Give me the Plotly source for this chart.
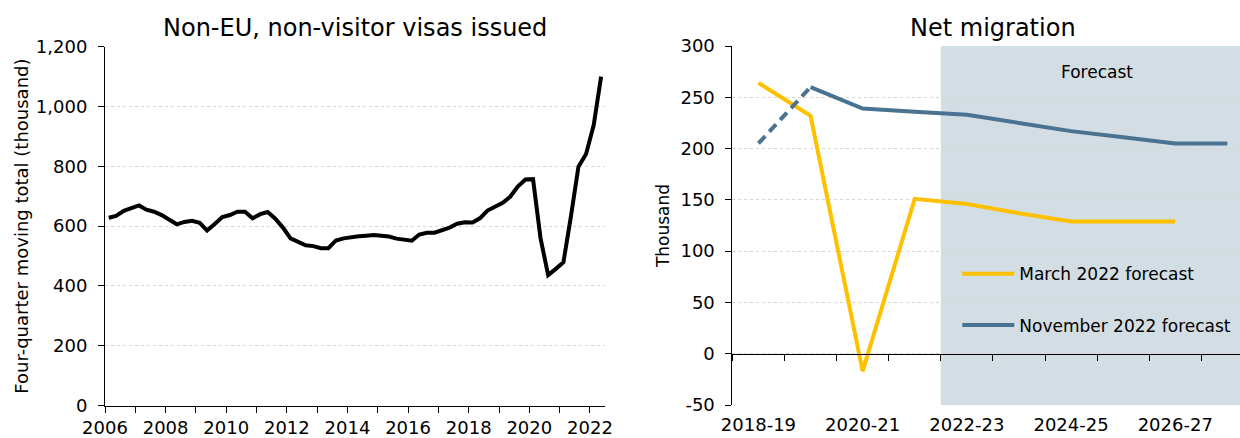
import plotly.graph_objects as go

# Left panel: non-EU, non-visitor visas issued, four-quarter moving total (thousand)
# quarterly, 2006 Q1 to 2022 Q2
visa_first_year = 2006
visas = [628, 634, 651, 661, 669, 655, 648, 637, 621, 606, 614, 618, 611, 585, 607, 630,
         637, 648, 648, 626, 640, 647, 625, 595, 559, 548, 536, 533, 526, 526, 552, 559,
         564, 566, 568, 570, 568, 565, 558, 556, 551, 572, 578, 578, 585, 595, 608, 613,
         612, 626, 652, 665, 678, 698, 732, 756, 757, 560, 436, 457, 479, 630, 799, 841,
         938, 1100]
mid_quarter = ["02-15", "05-15", "08-15", "11-15"]
quarters = [f"{visa_first_year + i // 4}-{mid_quarter[i % 4]}" for i in range(len(visas))]

# Right panel: net migration (thousand)
fiscal_years = ["2018-19", "2019-20", "2020-21", "2021-22", "2022-23",
                "2023-24", "2024-25", "2025-26", "2026-27", "2027-28"]
march_2022 = [264, 232, -17, 151, 146, 137, 129, 129, 129, None]
november_2022 = [205, 260, 239, 236, 233, 225, 217, 211, 205, 205]
forecast_start = "2022-23"
net_ticks = [-50, 0, 50, 100, 150, 200, 250, 300]

FONT = "DejaVu Sans"
YELLOW = "#FFC000"
BLUE = "#4A7291"
SHADE = "#D3DDE4"
GRID = "#D6D6D6"

W, H = 1240, 438
# plot areas in pixels (left, right, top, bottom)
L_AREA = (105, 605, 46.7, 405.5)
R_AREA = (732.4, 1240, 46, 405)
CAT_W = 52.1


def xdom(a):
    return [a[0] / W, a[1] / W]


def ydom(a):
    return [(H - a[3]) / H, (H - a[2]) / H]


fig = go.Figure()

fig.add_trace(go.Scatter(
    x=quarters, y=visas, mode="lines", xaxis="x", yaxis="y",
    line=dict(color="black", width=4), showlegend=False,
))

fig.add_trace(go.Scatter(
    x=fiscal_years, y=march_2022, mode="lines", xaxis="x2", yaxis="y2",
    name="March 2022 forecast", legendgroup="m",
    line=dict(color=YELLOW, width=4),
))
fig.add_trace(go.Scatter(
    x=fiscal_years[:2], y=november_2022[:2], mode="lines", xaxis="x2", yaxis="y2",
    line=dict(color=BLUE, width=4, dash="10px,6px"), showlegend=False,
))
fig.add_trace(go.Scatter(
    x=fiscal_years[1:], y=november_2022[1:], mode="lines", xaxis="x2", yaxis="y2",
    name="November 2022 forecast", legendgroup="n",
    line=dict(color=BLUE, width=4),
))
# carrier for the zero-line axis with boundary ticks
fig.add_trace(go.Scatter(
    x=fiscal_years, y=[None] * len(fiscal_years), xaxis="x3", yaxis="y2",
    showlegend=False, hoverinfo="skip",
))

r_range = [-0.5, (R_AREA[1] - R_AREA[0]) / CAT_W - 0.5]
y2_dom = ydom(R_AREA)
zero_pos = y2_dom[0] + (0 - (-50)) / 350 * (y2_dom[1] - y2_dom[0])

axis_font = dict(family=FONT, size=18, color="black")

fig.add_shape(type="rect", xref="x2", yref="y2",
              x0=fiscal_years.index(forecast_start) - 0.5, x1=len(fiscal_years) + 1,
              y0=-50, y1=300, fillcolor=SHADE, line_width=0, layer="below")

fig.add_annotation(xref="x2", yref="y2", x=6.5, y=275, text="Forecast",
                   showarrow=False, font=dict(family=FONT, size=17, color="black"))

fig.add_annotation(xref="paper", yref="paper", x=sum(xdom(L_AREA)) / 2, y=(H - 28) / H,
                   xanchor="center", yanchor="middle",
                   text="Non-EU, non-visitor visas issued", showarrow=False,
                   font=dict(family=FONT, size=24, color="black"))
fig.add_annotation(xref="paper", yref="paper",
                   x=(R_AREA[0] + R_AREA[0] + 10 * CAT_W) / 2 / W, y=(H - 28) / H,
                   xanchor="center", yanchor="middle",
                   text="Net migration", showarrow=False,
                   font=dict(family=FONT, size=24, color="black"))

fig.update_layout(
    width=W, height=H,
    margin=dict(l=0, r=0, t=0, b=0, autoexpand=False),
    paper_bgcolor="white", plot_bgcolor="rgba(0,0,0,0)",
    font=dict(family=FONT, color="black"),
    xaxis=dict(
        domain=xdom(L_AREA), anchor="y", type="date", automargin=False,
        range=["2006-01-01", "2022-07-01"],
        tick0="2006-01-01", dtick="M24", tickformat="%Y",
        ticks="outside", ticklen=6, tickcolor="black",
        minor=dict(dtick="M12", ticks="outside", ticklen=6, tickcolor="black"),
        showline=True, linecolor="black", linewidth=1,
        showgrid=False, tickfont=axis_font,
    ),
    yaxis=dict(
        domain=ydom(L_AREA), anchor="x", range=[0, 1200], dtick=200, automargin=False,
        tickformat=",", ticks="outside", ticklen=6, tickcolor="black",
        ticklabelstandoff=7,
        showline=True, linecolor="black", linewidth=1,
        showgrid=True, gridcolor=GRID, griddash="dot", gridwidth=1,
        zeroline=False, tickfont=axis_font,
        title=dict(text="Four-quarter moving total (thousand)", standoff=2,
                   font=dict(family=FONT, size=18, color="black")),
    ),
    xaxis2=dict(
        domain=xdom(R_AREA), anchor="y2", type="category", automargin=False,
        categoryorder="array", categoryarray=fiscal_years, range=r_range,
        tickvals=fiscal_years[::2], ticks="", showline=False, ticklabelstandoff=7,
        showgrid=False, tickfont=axis_font,
    ),
    xaxis3=dict(
        overlaying="x2", anchor="free", position=zero_pos, type="category",
        categoryorder="array", categoryarray=fiscal_years, range=r_range,
        automargin=False,
        tickson="boundaries", ticks="outside", ticklen=6, tickcolor="black",
        showticklabels=False, showline=True, linecolor="black", linewidth=1,
        showgrid=False,
    ),
    yaxis2=dict(
        domain=y2_dom, anchor="x2", range=[-50, 300], automargin=False,
        tickvals=net_ticks, ticktext=[str(v) for v in net_ticks],
        ticks="outside", ticklen=6, tickcolor="black", ticklabelstandoff=7,
        showline=True, linecolor="black", linewidth=1,
        showgrid=True, gridcolor=GRID, griddash="dot", gridwidth=1,
        zeroline=False, tickfont=axis_font,
        title=dict(text="Thousand", standoff=6,
                   font=dict(family=FONT, size=17, color="black")),
    ),
    legend=dict(
        x=0.772, y=0.415, xanchor="left", yanchor="top",
        bgcolor="rgba(0,0,0,0)", traceorder="grouped", tracegroupgap=26,
        itemwidth=52, font=dict(family=FONT, size=17, color="black"),
    ),
)

fig.write_html("out.html", config={"displayModeBar": False},
               post_script="document.body.style.margin='0';")
